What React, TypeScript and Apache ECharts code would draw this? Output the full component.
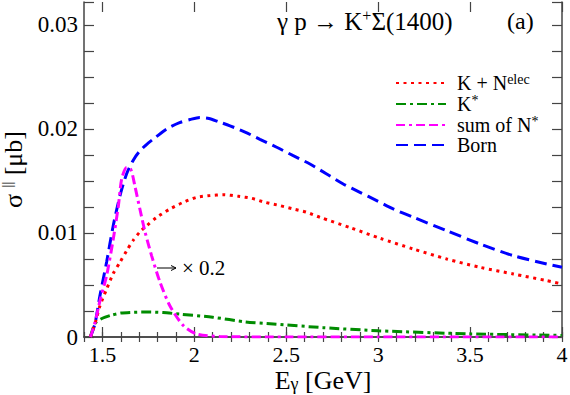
import React, { useEffect, useRef } from "react";
import * as echarts from "echarts";

// ---- data ----
const xTickLabels = [1.5, 2, 2.5, 3, 3.5, 4];
const yTickLabels = [0, 0.01, 0.02, 0.03];

const seriesNames = ["K + Nelec", "K*", "sum of N*", "Born"];

const knX = [1.435, 1.46, 1.487, 1.523, 1.559, 1.596, 1.632, 1.668, 1.704, 1.741, 1.795, 1.868, 1.94, 2.013, 2.085, 2.158, 2.239, 2.312, 2.384, 2.466, 2.538, 2.611, 2.684, 2.85, 3.01, 3.191, 3.373, 3.554, 3.735, 3.917, 4.0];
const knY = [0, 0.0013, 0.003, 0.0046, 0.0061, 0.0072, 0.0083, 0.0093, 0.0101, 0.0107, 0.0115, 0.01231, 0.01295, 0.01343, 0.01359, 0.01368, 0.01353, 0.01333, 0.01295, 0.01263, 0.01231, 0.01199, 0.0115, 0.0105, 0.00949, 0.00846, 0.0075, 0.0067, 0.00606, 0.00542, 0.0051];

const ksX = [1.435, 1.46, 1.5, 1.55, 1.6, 1.67, 1.75, 1.83, 1.92, 2.1, 2.28, 2.43, 2.7, 3.0, 3.5, 4.0];
const ksY = [0, 0.0013, 0.0018, 0.0021, 0.0023, 0.00238, 0.0024, 0.00235, 0.0022, 0.0019, 0.00145, 0.00125, 0.0009, 0.0006, 0.0003, 0.00015];

const snX = [1.435, 1.46, 1.487, 1.523, 1.559, 1.587, 1.605, 1.632, 1.655, 1.677, 1.704, 1.732, 1.768, 1.813, 1.867, 1.94, 2.01, 2.14, 2.5, 3.0, 3.5, 4.0];
const snY = [0, 0.0014, 0.0035, 0.0059, 0.0094, 0.0126, 0.0152, 0.0163, 0.0161, 0.0145, 0.0123, 0.0101, 0.0078, 0.0053, 0.003, 0.0011, 0.0003, 0.00005, 0, 0, 0, 0];

const bornX = [1.435, 1.46, 1.487, 1.523, 1.559, 1.596, 1.632, 1.668, 1.7, 1.74, 1.79, 1.85, 1.92, 1.977, 2.03, 2.08, 2.13, 2.194, 2.276, 2.357, 2.448, 2.538, 2.629, 2.72, 2.81, 2.901, 2.992, 3.082, 3.191, 3.373, 3.554, 3.735, 3.917, 4.0];
const bornY = [0, 0.0013, 0.004, 0.0072, 0.0107, 0.0136, 0.0157, 0.017, 0.0178, 0.0185, 0.0192, 0.02, 0.0206, 0.0209, 0.0211, 0.021, 0.0207, 0.0203, 0.0197, 0.019, 0.01824, 0.01743, 0.01663, 0.01567, 0.01471, 0.01391, 0.01311, 0.01231, 0.01151, 0.01022, 0.00894, 0.00782, 0.00702, 0.0067];

const FONT = "Liberation Serif";
const AX = "#444";

const pairs = (xs: number[], ys: number[]) => xs.map((x, i) => [x, ys[i]]);
const isTick = (v: number, list: number[]) => list.some((t) => Math.abs(t - v) < 1e-7);

export default function App() {
  const ref = useRef<HTMLDivElement>(null);
  useEffect(() => {
    const chart = echarts.init(ref.current!, null, { renderer: "svg" });
    const axisLine = { show: true, lineStyle: { color: AX, width: 1.5 } };
    const tickStyle = { color: AX, width: 1.2 };
    const mkSeries = (name: string, xs: number[], ys: number[], color: string, type: number[], z: number) => ({
      name,
      type: "line",
      xAxisIndex: 0,
      yAxisIndex: 0,
      data: pairs(xs, ys),
      showSymbol: false,
      symbol: "none",
      smooth: 0.25,
      z,
      itemStyle: { color },
      lineStyle: { color, width: 3, type },
    });
    const legendRich = {
      n: { fontFamily: FONT, fontSize: 20, color: "#000", lineHeight: 22, verticalAlign: "middle" },
      sup: { fontFamily: FONT, fontSize: 14, color: "#000", lineHeight: 14, verticalAlign: "top" },
    };
    const legendText: Record<string, string> = {
      "K + Nelec": "{n|K + N}{sup|elec}",
      "K*": "{n|K}{sup|*}",
      "sum of N*": "{n|sum of N}{sup|*}",
      Born: "{n|Born}",
    };
    const tickRich = { t: { fontFamily: FONT, fontSize: 22, color: "#000", lineHeight: 26 } };
    const option: any = {
      animation: false,
      backgroundColor: "#fff",
      textStyle: { fontFamily: FONT },
      grid: [
        { left: 84, right: 8, top: 2, bottom: 58, outerBoundsMode: "none", containLabel: false },
        { left: 102.38, right: 8, top: 2, bottom: 58, outerBoundsMode: "none", containLabel: false },
      ],
      xAxis: [
        {
          gridIndex: 0, type: "value", position: "bottom", min: 1.4, max: 4, interval: 0.1,
          axisLine, axisTick: { inside: true, length: 5, lineStyle: tickStyle },
          axisLabel: { show: false }, splitLine: { show: false },
          name: "{m|E}{s|γ}{m| [GeV]}", nameLocation: "middle", nameGap: 30,
          nameTextStyle: {
            fontFamily: FONT,
            rich: {
              m: { fontFamily: FONT, fontSize: 26, color: "#000", lineHeight: 26 },
              s: { fontFamily: FONT, fontSize: 18, color: "#000", lineHeight: 18, verticalAlign: "bottom" },
            },
          },
        },
        {
          gridIndex: 0, type: "value", position: "top", min: 1.4, max: 4, interval: 0.1,
          axisLine, axisTick: { inside: true, length: 5, lineStyle: tickStyle },
          axisLabel: { show: false }, splitLine: { show: false },
        },
        {
          gridIndex: 1, type: "value", position: "bottom", min: 1.5, max: 4, interval: 0.5,
          axisLine: { show: false }, axisTick: { inside: true, length: 10, lineStyle: tickStyle },
          axisLabel: {
            margin: 4, fontFamily: FONT, fontSize: 22, color: "#000", rich: tickRich,
            formatter: (v: number) => (isTick(v, xTickLabels) ? `{t|${Math.round(v * 10) / 10}}` : ""),
          },
          splitLine: { show: false },
        },
        {
          gridIndex: 1, type: "value", position: "top", min: 1.5, max: 4, interval: 0.5,
          axisLine: { show: false }, axisTick: { inside: true, length: 10, lineStyle: tickStyle },
          axisLabel: { show: false }, splitLine: { show: false },
        },
      ],
      yAxis: [
        {
          gridIndex: 0, type: "value", position: "left", min: 0, max: 0.0322, interval: 0.0025,
          axisLine, axisTick: { inside: true, length: 10, lineStyle: tickStyle },
          axisLabel: {
            margin: 6, fontFamily: FONT, fontSize: 23, color: "#000",
            rich: { t: { fontFamily: FONT, fontSize: 23, color: "#000", lineHeight: 26 } },
            formatter: (v: number) => (isTick(v, yTickLabels) ? `{t|${Math.round(v * 100) / 100}}` : ""),
          },
          splitLine: { show: false },
          name: "{m|σ }{s|||}{m| [μb]}", nameLocation: "middle", nameGap: 54,
          nameTextStyle: {
            fontFamily: FONT,
            rich: {
              m: { fontFamily: FONT, fontSize: 26, color: "#000", lineHeight: 26 },
              s: { fontFamily: FONT, fontSize: 14, color: "#000", lineHeight: 14, verticalAlign: "top" },
            },
          },
        },
        {
          gridIndex: 0, type: "value", position: "right", min: 0, max: 0.0322, interval: 0.0025,
          axisLine, axisTick: { inside: true, length: 10, lineStyle: tickStyle },
          axisLabel: { show: false }, splitLine: { show: false },
        },
        { gridIndex: 1, type: "value", show: false, min: 0, max: 1 },
      ],
      legend: {
        orient: "vertical", left: 390, top: 67, itemWidth: 50, itemHeight: 14, itemGap: 0,
        data: seriesNames,
        itemStyle: { opacity: 0 },
        formatter: (name: string) => legendText[name] || name,
        textStyle: { fontFamily: FONT, fontSize: 20, color: "#000", padding: [0, 0, 0, 6], rich: legendRich },
      },
      graphic: [
        {
          type: "text", x: 277, y: 21,
          style: {
            text: "{m|γ p → K}{s|+}{m|Σ(1400)}", verticalAlign: "middle", align: "left",
            fontFamily: FONT,
            rich: {
              m: { fontFamily: FONT, fontSize: 25, fill: "#000", lineHeight: 28 },
              s: { fontFamily: FONT, fontSize: 16, fill: "#000", lineHeight: 16, verticalAlign: "top" },
            },
          },
        },
        { type: "text", x: 507, y: 21, style: { text: "(a)", fontFamily: FONT, fontSize: 24, fill: "#000", verticalAlign: "middle" } },
        { type: "line", shape: { x1: 157, y1: 268, x2: 176, y2: 268 }, style: { stroke: "#000", lineWidth: 1 } },
        { type: "polyline", shape: { points: [[171, 265.5], [176, 268], [171, 270.5]] }, style: { stroke: "#000", lineWidth: 1, fill: null } },
        { type: "text", x: 182, y: 268, style: { text: "× 0.2", fontFamily: FONT, fontSize: 21, fill: "#000", verticalAlign: "middle" } },
      ],
      series: [
        mkSeries("K + Nelec", knX, knY, "#ff0000", [3, 4.5], 3),
        mkSeries("K*", ksX, ksY, "#008c00", [10, 4, 3, 4], 2),
        mkSeries("sum of N*", snX, snY, "#ff00ff", [9, 4, 3, 4, 9, 4], 4),
        mkSeries("Born", bornX, bornY, "#0000ff", [12, 6], 1),
      ],
    };
    chart.setOption(option);
    return () => chart.dispose();
  }, []);
  return (
    <div
      ref={ref}
      style={{ position: "absolute", left: 0, top: 0, width: 570, height: 395, background: "#fff" }}
    />
  );
}
